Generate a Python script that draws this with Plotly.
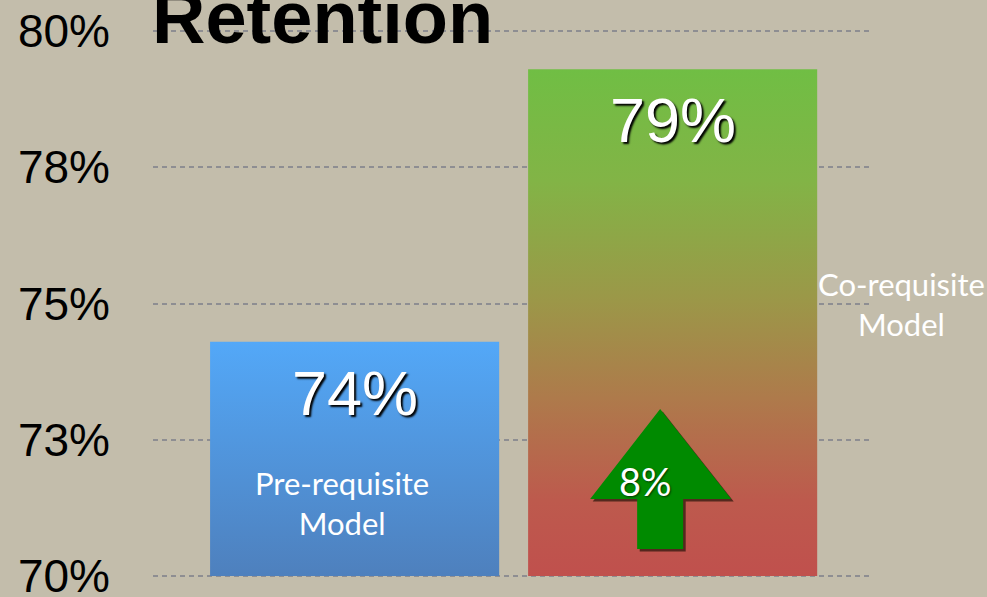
import plotly.graph_objects as go

# ---- data ----
categories = ["Pre-requisite Model", "Co-requisite Model"]
retention = [74.3, 79.3]
value_labels = ["74%", "79%"]
change_label = "8%"
tick_vals = [70, 72.5, 75, 77.5, 80]
tick_text = ["70%", "73%", "75%", "78%", "80%"]

BASE = 70
BAR_W = 0.909
bar_scales = [
    [[0, "#4e80bd"], [1, "#53a8f8"]],
    [[0, "#c0504d"], [0.15, "#bd5a4d"], [0.35, "#ae7a4b"], [0.55, "#9b9848"],
     [0.78, "#82b446"], [1, "#70be44"]],
]

fig = go.Figure()
for i, (cat, v) in enumerate(zip(categories, retention)):
    x0, x1 = i - BAR_W / 2, i + BAR_W / 2
    fig.add_trace(go.Scatter(
        x=[x0, x0, x1, x1, x0], y=[BASE, v, v, BASE, BASE],
        mode="lines", line=dict(width=0), fill="toself",
        fillgradient=dict(type="vertical", colorscale=bar_scales[i], start=BASE, stop=v),
        name=cat, hoverinfo="skip", showlegend=False,
    ))
    fig.add_annotation(x=i, y=v, text=value_labels[i], showarrow=False,
                       yanchor="middle", yshift=-51,
                       font=dict(family="Liberation Sans, Arial", size=63, color="white",
                                 shadow="2px 2px 2px #000000"))

# up arrow (decoration) on the second bar
ax = [0.9607, 0.7406, 0.8884, 0.8884, 1.033, 1.033, 1.184]
ay = [73.064, 71.413, 71.413, 70.495, 70.495, 71.413, 71.413]
def path(xs, ys, dx=0.0, dy=0.0):
    pts = [f"{x+dx},{y+dy}" for x, y in zip(xs, ys)]
    return "M" + " L".join(pts) + " Z"
fig.add_shape(type="path", path=path(ax, ay, 0.008, -0.045), xref="x", yref="y",
              fillcolor="rgba(40,20,10,0.7)", line=dict(width=0))
fig.add_shape(type="path", path=path(ax, ay), xref="x", yref="y",
              fillcolor="#008a00", line=dict(width=0))
fig.add_annotation(x=0.9135, y=71.74, text=change_label, showarrow=False,
                   font=dict(family="Lato", size=38, color="white",
                             shadow="1px 1px 2px rgba(0,0,0,0.6)"))

# category labels
fig.add_annotation(x=0, y=BASE, yshift=73, xshift=-13, text="Pre-requisite<br>Model",
                   showarrow=False, yanchor="middle",
                   font=dict(family="Lato", size=31, color="white"))
fig.add_annotation(xref="paper", x=1.04, y=75, text="Co-requisite<br>Model",
                   showarrow=False, xanchor="center", yanchor="middle",
                   font=dict(family="Lato", size=31, color="white"))

# title
fig.add_annotation(xref="paper", yref="paper", x=-0.004, y=(578 - 18) / 549,
                   xanchor="left", yanchor="middle", text="<b>Retention</b>",
                   showarrow=False,
                   font=dict(family="Liberation Sans, Arial", size=74, color="black"))

fig.update_layout(
    width=987, height=597,
    margin=dict(l=153, r=114, t=29, b=19, autoexpand=False),
    paper_bgcolor="#c3bdab", plot_bgcolor="rgba(0,0,0,0)",
    showlegend=False,
    xaxis=dict(range=[-0.634, 1.630], showgrid=False, zeroline=False,
               showticklabels=False, showline=False, automargin=False),
    yaxis=dict(range=[69.963, 80.037], tickvals=tick_vals, ticktext=tick_text,
               showgrid=True, gridcolor="#8e8e92", gridwidth=2, griddash="5px,4px",
               zeroline=False, showline=False, ticks="", ticklabelstandoff=42,
               automargin=False, ticklabeloverflow="allow",
               tickfont=dict(family="Liberation Sans, Arial", size=46, color="black")),
)

fig.write_html("out.html", config={"displayModeBar": False},
               post_script="document.body.style.margin='0';document.body.style.background='#c3bdab';")
